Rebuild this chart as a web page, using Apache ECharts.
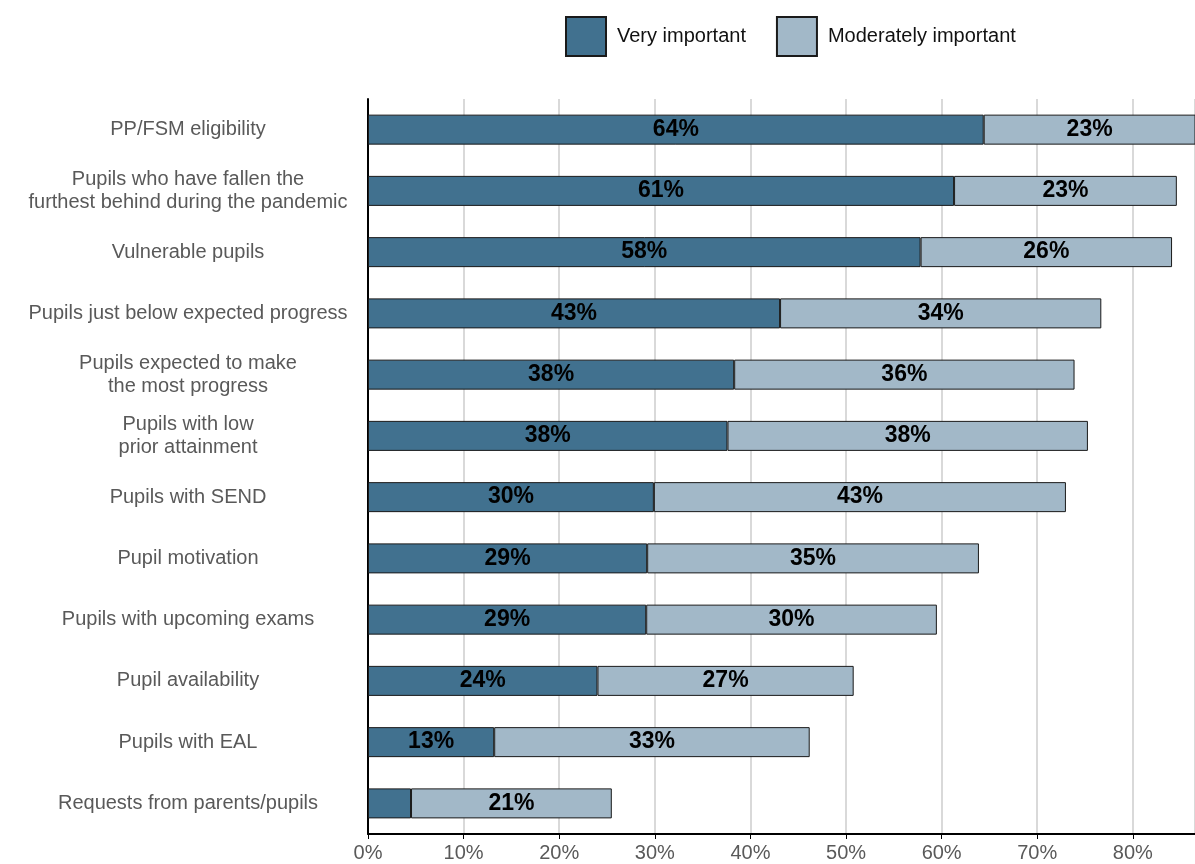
<!DOCTYPE html>
<html>
<head>
<meta charset="utf-8">
<script src="https://cdn.jsdelivr.net/npm/echarts@6/dist/echarts.min.js"></script>
<style>
  html, body { margin: 0; padding: 0; background: #fff; }
  #chart { width: 1195px; height: 864px; }
</style>
</head>
<body>
<div id="chart"></div>
<script>
// categories, top to bottom
const categories = [
    'PP/FSM eligibility',
    'Pupils who have fallen the\nfurthest behind during the pandemic',
    'Vulnerable pupils',
    'Pupils just below expected progress',
    'Pupils expected to make\nthe most progress',
    'Pupils with low\nprior attainment',
    'Pupils with SEND',
    'Pupil motivation',
    'Pupils with upcoming exams',
    'Pupil availability',
    'Pupils with EAL',
    'Requests from parents/pupils'
];
// percentages
const veryImportant = [64.4, 61.3, 57.8, 43.1, 38.3, 37.6, 29.9, 29.2, 29.1, 24.0, 13.2, 4.5];
const moderatelyImportant = [23.0, 23.3, 26.3, 33.6, 35.6, 37.7, 43.1, 34.7, 30.4, 26.8, 33.0, 21.0];
const xTicks = [0, 10, 20, 30, 40, 50, 60, 70, 80];

const labelFont = 'Liberation Sans, Arial, sans-serif';

// small segments get no label
function barLabel(p) {
    return p.value < 8 ? '' : Math.round(p.value) + '%';
}

let myChart = echarts.init(document.querySelector('#chart'));
myChart.setOption({
    animation: false,
    textStyle: { fontFamily: labelFont },
    legend: {
        top: 11,
        left: 560,
        itemWidth: 40,
        itemHeight: 39,
        itemGap: 30,
        itemStyle: { borderRadius: 0 },
        textStyle: { fontSize: 20, color: '#111', fontFamily: labelFont, padding: [0, 0, 0, 6] },
        data: [
            { name: 'Very important', icon: 'rect' },
            { name: 'Moderately important', icon: 'rect' }
        ]
    },
    grid: {
        left: 368,
        right: 0,
        top: 99,
        bottom: 30,
        containLabel: false
    },
    xAxis: {
        type: 'value',
        min: 0,
        max: 86.5,
        interval: 10,
        axisLine: { show: true, lineStyle: { color: '#000', width: 2 } },
        axisTick: { show: true, length: 5, lineStyle: { color: '#000', width: 1 } },
        axisLabel: {
            fontSize: 20,
            color: '#595959',
            margin: 9,
            showMaxLabel: false,
            formatter: function (v) {
                return xTicks.indexOf(v) >= 0 ? v + '%' : '';
            }
        },
        splitLine: { show: true, lineStyle: { color: '#d9d9d9', width: 2 } }
    },
    yAxis: {
        type: 'category',
        inverse: true,
        data: categories,
        axisLine: { show: true, lineStyle: { color: '#000', width: 2 } },
        axisTick: { show: false },
        axisLabel: {
            fontSize: 20,
            color: '#595959',
            align: 'center',
            margin: 180,
            lineHeight: 23
        }
    },
    series: [
        {
            name: 'Very important',
            type: 'bar',
            stack: 'total',
            barWidth: 30,
            data: veryImportant,
            itemStyle: { color: '#41718f', borderColor: '#1a1a1a', borderWidth: 1 },
            label: {
                show: true,
                position: 'inside',
                formatter: barLabel,
                fontSize: 23,
                fontWeight: 'bold',
                color: '#000'
            }
        },
        {
            name: 'Moderately important',
            type: 'bar',
            stack: 'total',
            barWidth: 30,
            data: moderatelyImportant,
            itemStyle: { color: '#a2b8c8', borderColor: '#1a1a1a', borderWidth: 1 },
            label: {
                show: true,
                position: 'inside',
                formatter: barLabel,
                fontSize: 23,
                fontWeight: 'bold',
                color: '#000'
            }
        }
    ]
});
</script>
</body>
</html>
